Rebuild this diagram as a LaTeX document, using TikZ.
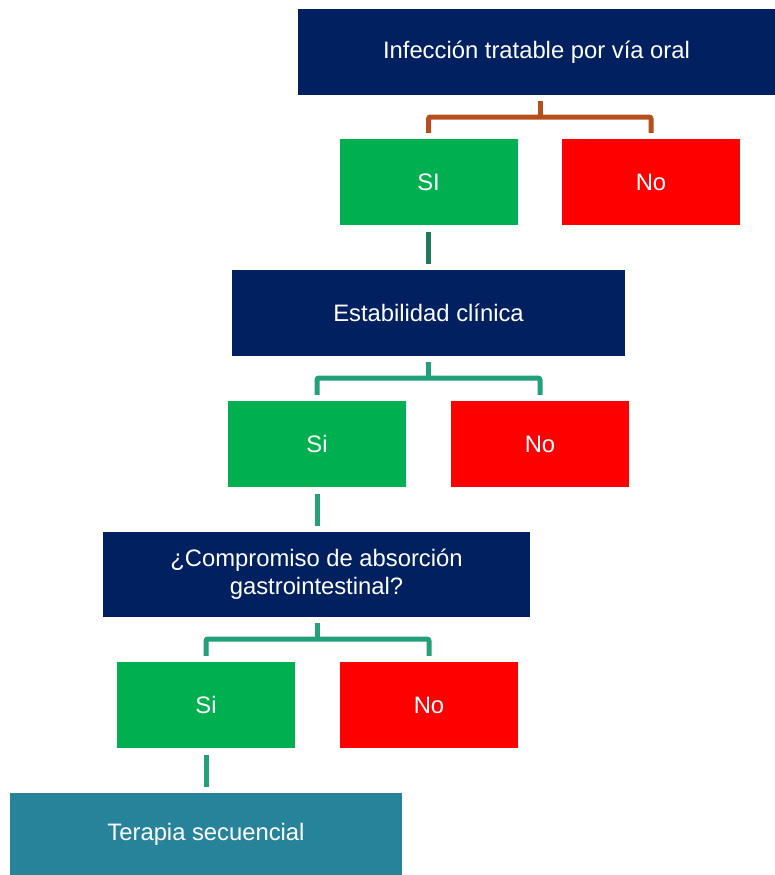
\documentclass[tikz,border=0pt]{standalone}
\usepackage{fontspec}
\setmainfont{Liberation Sans}
\begin{document}
\begin{tikzpicture}[x=1pt,y=-1pt,
  box/.style={inner sep=2pt,align=center,text=white,font=\fontsize{23.8}{28}\selectfont},
  navybox/.style={box,fill=navy},
  yesbox/.style={box,fill=yesgreen,minimum width=178pt,minimum height=86pt},
  nobox/.style={box,fill=nored,minimum width=178pt,minimum height=86pt},
  brk/.style={line width=5pt,rounded corners=2pt},
  brkbrown/.style={brk,draw=brkbrown},
  brkgreen/.style={brk,draw=brkgreen},
  link/.style={line width=5pt}
]
\definecolor{navy}{HTML}{002060}
\definecolor{yesgreen}{HTML}{00B050}
\definecolor{nored}{HTML}{FF0000}
\definecolor{teal}{HTML}{27839A}
\definecolor{brkbrown}{HTML}{B5501E}
\definecolor{brkgreen}{HTML}{21A07A}
\definecolor{linkgreen}{HTML}{1E7A5A}
\useasboundingbox (0,0) rectangle (775,875);

% question boxes
\node[navybox,minimum width=477pt,minimum height=86pt] (q1) at (536.5,52) {Infección tratable por vía oral};
\node[navybox,minimum width=393pt,minimum height=86pt] (q2) at (428.5,313) {Estabilidad clínica};
\node[navybox,minimum width=427pt,minimum height=85pt] (q3) at (316.5,574.5) {¿Compromiso de absorción\\gastrointestinal?};

% answers
\node[yesbox] (y1) at (428.5,182) {SI};
\node[nobox]  (n1) at (651,182) {No};
\node[yesbox] (y2) at (317,444) {Si};
\node[nobox]  (n2) at (540,444) {No};
\node[yesbox] (y3) at (206,705) {Si};
\node[nobox]  (n3) at (429,705) {No};

% outcome
\node[box,fill=teal,minimum width=392pt,minimum height=82pt] (t) at (206,834) {Terapia secuencial};

% branch points
\coordinate (b1) at (540,117);
\coordinate (b2) at (428,378);
\coordinate (b3) at (317,639);

% brackets
\draw[brkbrown] (b1 |- q1.south) ++(0,6) -- (b1);
\draw[brkbrown] ([yshift=6pt]y1.north) |- (b1) -| ([yshift=6pt]n1.north);
\draw[brkgreen] (b2 |- q2.south) ++(0,6) -- (b2);
\draw[brkgreen] ([yshift=6pt]y2.north) |- (b2) -| ([yshift=6pt]n2.north);
\draw[brkgreen] (b3 |- q3.south) ++(0,6) -- (b3);
\draw[brkgreen] ([yshift=6pt]y3.north) |- (b3) -| ([yshift=6pt]n3.north);

% straight links
\draw[link,draw=linkgreen] ([yshift=-7pt]y1.south) -- ([yshift=6pt]q2.north -| y1.south);
\draw[link,draw=brkgreen] ([yshift=-7pt]y2.south) -- ([yshift=6pt]q3.north -| y2.south);
\draw[link,draw=brkgreen] ([yshift=-7pt]y3.south) -- ([yshift=6pt]t.north -| y3.south);
\end{tikzpicture}
\end{document}
